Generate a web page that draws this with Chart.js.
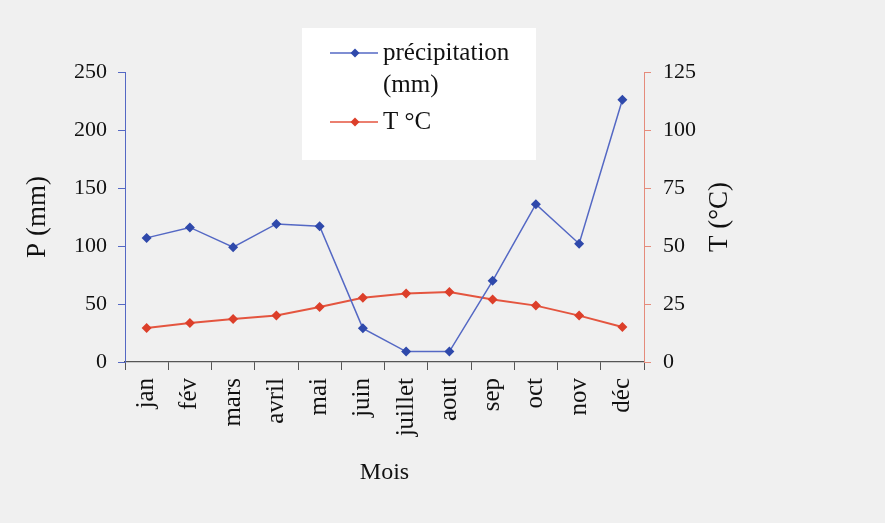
<!DOCTYPE html>
<html>
<head>
<meta charset="utf-8">
<script src="https://cdn.jsdelivr.net/npm/chart.js@4/dist/chart.umd.min.js"></script>
<style>
  html, body { margin: 0; padding: 0; background: #f0f0f0; }
  #wrap { width: 885px; height: 523px; }
</style>
</head>
<body>
<div id="wrap"><canvas id="climat"></canvas></div>
<script>
const mois = ['jan', 'fév', 'mars', 'avril', 'mai', 'juin', 'juillet', 'aout', 'sep', 'oct', 'nov', 'déc'];
const precipitation = [107, 116, 99, 119, 117, 29, 9, 9, 70, 136, 102, 226];
const temperature = [14.7, 16.8, 18.5, 20, 23.7, 27.7, 29.5, 30.2, 26.9, 24.3, 20, 15.1];
const legendLines = [['précipitation', '(mm)'], ['T °C']];

const SERIF = "'Liberation Serif', 'Times New Roman', serif";
const INK = '#111111';
const BLUE = '#5468c4';
const BLUE_DOT = '#2f49ab';
const RED = '#e4553f';
const RED_DOT = '#dc3f2a';

// paper background + white legend box + right axis title (reads bottom to top)
const decor = {
    id: 'decor',
    beforeDraw(chart) {
        const ctx = chart.ctx;
        ctx.save();
        ctx.fillStyle = '#f0f0f0';
        ctx.fillRect(0, 0, chart.width, chart.height);
        ctx.restore();
    },
    afterDraw(chart) {
        const ctx = chart.ctx;
        const area = chart.chartArea;
        ctx.save();
        ctx.fillStyle = '#ffffff';
        ctx.fillRect(302, 28, 234, 132);

        const rows = [
            { y: 53, color: BLUE, dot: BLUE_DOT, lines: legendLines[0] },
            { y: 122, color: RED, dot: RED_DOT, lines: legendLines[1] }
        ];
        ctx.font = '25px ' + SERIF;
        ctx.textBaseline = 'middle';
        rows.forEach(r => {
            ctx.strokeStyle = r.color;
            ctx.lineWidth = 1.5;
            ctx.beginPath();
            ctx.moveTo(330, r.y);
            ctx.lineTo(378, r.y);
            ctx.stroke();
            ctx.fillStyle = r.dot;
            ctx.beginPath();
            ctx.moveTo(355, r.y - 4.5);
            ctx.lineTo(359.5, r.y);
            ctx.lineTo(355, r.y + 4.5);
            ctx.lineTo(350.5, r.y);
            ctx.closePath();
            ctx.fill();
            ctx.fillStyle = INK;
            r.lines.forEach((t, i) => ctx.fillText(t, 383, r.y + i * 32));
        });

        ctx.translate(720, (area.top + area.bottom) / 2);
        ctx.rotate(-Math.PI / 2);
        ctx.textAlign = 'center';
        ctx.font = '27px ' + SERIF;
        ctx.fillText('T (°C)', 0, 0);
        ctx.restore();
    }
};

new Chart(document.getElementById('climat'), {
    type: 'line',
    data: {
        labels: mois,
        datasets: [{
            label: 'précipitation (mm)',
            data: precipitation,
            yAxisID: 'y',
            borderColor: BLUE,
            backgroundColor: BLUE_DOT,
            borderWidth: 1.5,
            pointStyle: 'rectRot',
            pointRadius: 5,
            pointBorderWidth: 0,
            tension: 0
        }, {
            label: 'T °C',
            data: temperature,
            yAxisID: 'y1',
            borderColor: RED,
            backgroundColor: RED_DOT,
            borderWidth: 2,
            pointStyle: 'rectRot',
            pointRadius: 5,
            pointBorderWidth: 0,
            tension: 0
        }]
    },
    options: {
        responsive: true,
        maintainAspectRatio: false,
        animation: false,
        layout: { padding: { left: 0, top: 72, right: 161, bottom: 31 } },
        plugins: {
            legend: { display: false },
            tooltip: { enabled: false }
        },
        scales: {
            x: {
                offset: true,
                grid: { display: true, drawOnChartArea: false, offset: true, tickLength: 8, color: '#555' },
                border: { color: '#555', width: 1.2 },
                ticks: {
                    autoSkip: false, maxRotation: 90, minRotation: 90, padding: 8,
                    color: INK, font: { family: SERIF, size: 25 }
                },
                title: {
                    display: true, text: 'Mois', color: INK,
                    font: { family: SERIF, size: 24 }, padding: { top: 0, bottom: 5 }
                },
                afterFit(scale) { scale.height = 130; }
            },
            y: {
                position: 'left',
                min: 0, max: 250,
                grid: { drawOnChartArea: false, tickLength: 7, color: BLUE },
                border: { color: BLUE },
                ticks: { stepSize: 50, padding: 11, color: INK, font: { family: SERIF, size: 22 } },
                title: {
                    display: true, text: 'P (mm)', color: INK,
                    font: { family: SERIF, size: 27 }, padding: { top: 22, bottom: 0 }
                },
                afterFit(scale) { scale.width = 125; }
            },
            y1: {
                position: 'right',
                min: 0, max: 125,
                grid: { drawOnChartArea: false, tickLength: 7, color: '#e58b7b' },
                border: { color: '#e58b7b' },
                ticks: { stepSize: 25, padding: 12, color: INK, font: { family: SERIF, size: 22 } },
                afterFit(scale) { scale.width = 80; }
            }
        }
    },
    plugins: [decor]
});
</script>
</body>
</html>
